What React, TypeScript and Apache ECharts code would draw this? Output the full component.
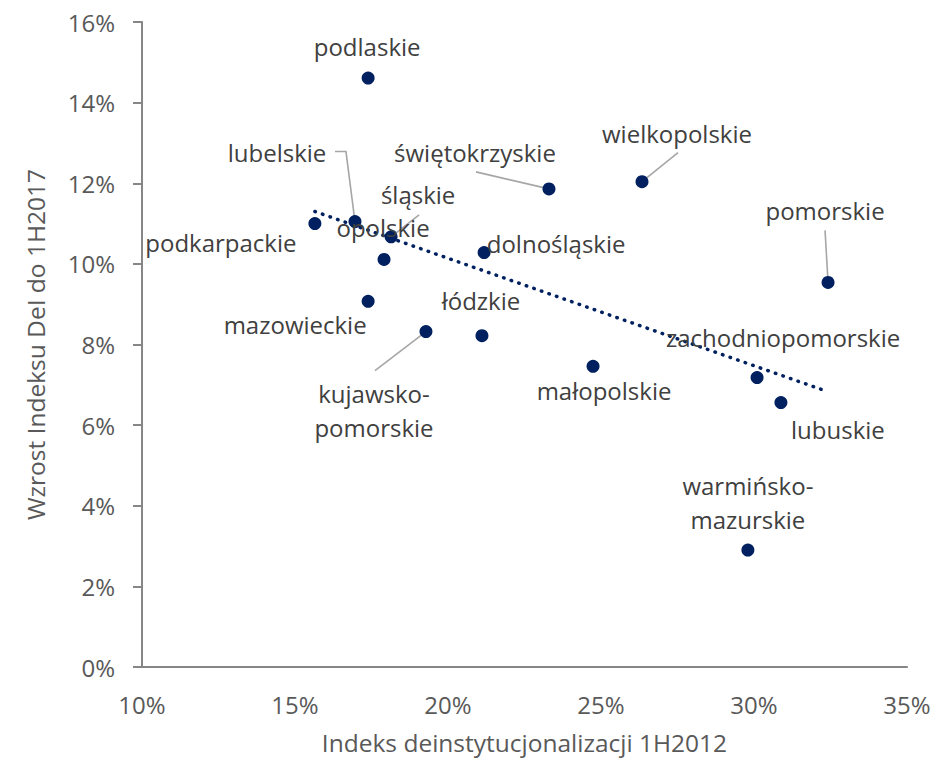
import React, { useEffect, useRef } from "react";
import * as echarts from "echarts";

// ---- Data (values in %) ----
const regions = [
  "podlaskie",
  "lubelskie",
  "podkarpackie",
  "śląskie",
  "opolskie",
  "mazowieckie",
  "kujawsko-pomorskie",
  "łódzkie",
  "dolnośląskie",
  "świętokrzyskie",
  "wielkopolskie",
  "pomorskie",
  "małopolskie",
  "zachodniopomorskie",
  "lubuskie",
  "warmińsko-mazurskie",
];
const deinstIndex1H2012 = [
  17.39, 16.96, 15.65, 18.14, 17.91, 17.39, 19.28, 21.11, 21.18, 23.3, 26.34,
  32.42, 24.74, 30.1, 30.88, 29.8,
];
const deiGrowthTo1H2017 = [
  14.61, 11.05, 11.0, 10.67, 10.11, 9.07, 8.32, 8.22, 10.28, 11.86, 12.04,
  9.54, 7.46, 7.18, 6.56, 2.9,
];

const X_AXIS_TITLE = "Indeks deinstytucjonalizacji 1H2012";
const Y_AXIS_TITLE = "Wzrost Indeksu DeI do 1H2017";
const X_MIN = 10;
const X_MAX = 35;
const X_STEP = 5;
const Y_MIN = 0;
const Y_MAX = 16;
const Y_STEP = 2;

// ---- Label placement (style only): label centre offset from point, px ----
const labelOffset: Record<string, [number, number]> = {
  podlaskie: [-1, -32],
  lubelskie: [-78, -69],
  podkarpackie: [-94, 19],
  "śląskie": [27, -42],
  opolskie: [-1, -32],
  mazowieckie: [-73, 23],
  "kujawsko-pomorskie": [-52, 79],
  "łódzkie": [-1, -35],
  "dolnośląskie": [72, -9],
  "świętokrzyskie": [-74, -36],
  wielkopolskie: [35, -48],
  pomorskie: [-3, -72],
  "małopolskie": [11, 24],
  zachodniopomorskie: [26, -40],
  lubuskie: [57, 27],
  "warmińsko-mazurskie": [0, -48],
};
// leader lines: polyline points as offsets from the point centre, px
const leaderLines: Record<string, [number, number][]> = {
  lubelskie: [
    [-20, -70],
    [-9, -70],
    [0, 0],
  ],
  "śląskie": [
    [28, -22],
    [0, 0],
  ],
  "kujawsko-pomorskie": [
    [-51, 39],
    [0, 0],
  ],
  "świętokrzyskie": [
    [-73, -17],
    [0, 0],
  ],
  wielkopolskie: [
    [36, -29],
    [0, 0],
  ],
  pomorskie: [
    [-3, -52],
    [0, 0],
  ],
};

const FONT = "'Open Sans', 'Noto Sans', sans-serif";
const NAVY = "#002060";

function linearFit(xs: number[], ys: number[]) {
  const n = xs.length;
  const mx = xs.reduce((a, b) => a + b, 0) / n;
  const my = ys.reduce((a, b) => a + b, 0) / n;
  let sxy = 0;
  let sxx = 0;
  for (let i = 0; i < n; i++) {
    sxy += (xs[i] - mx) * (ys[i] - my);
    sxx += (xs[i] - mx) * (xs[i] - mx);
  }
  const slope = sxy / sxx;
  return { slope, intercept: my - slope * mx };
}

export default function App() {
  const ref = useRef<HTMLDivElement>(null);

  useEffect(() => {
    if (!ref.current) return;
    const chart = echarts.init(ref.current, undefined, { renderer: "svg" });

    const points = regions.map((name, i) => ({
      name,
      value: [deinstIndex1H2012[i], deiGrowthTo1H2017[i]],
      label: { offset: labelOffset[name] || [0, -30] },
    }));

    const fit = linearFit(deinstIndex1H2012, deiGrowthTo1H2017);
    const xLo = Math.min(...deinstIndex1H2012);
    const xHi = Math.max(...deinstIndex1H2012);
    const trend = [
      [xLo, fit.intercept + fit.slope * xLo],
      [xHi, fit.intercept + fit.slope * xHi],
    ];

    const leaderData = regions
      .map((name, i) => ({ name, value: [deinstIndex1H2012[i], deiGrowthTo1H2017[i]] }))
      .filter((d) => leaderLines[d.name]);

    chart.setOption({
      animation: false,
      backgroundColor: "#ffffff",
      grid: { left: 142, right: 36, top: 22, bottom: 92, containLabel: false },
      xAxis: {
        type: "value",
        min: X_MIN,
        max: X_MAX,
        interval: X_STEP,
        name: X_AXIS_TITLE,
        nameLocation: "middle",
        nameGap: 63,
        nameTextStyle: { color: "#595959", fontSize: 24.5, fontFamily: FONT },
        axisLine: { show: true, lineStyle: { color: "#868686", width: 2 } },
        axisTick: { show: false },
        splitLine: { show: false },
        axisLabel: {
          formatter: "{value}%",
          color: "#595959",
          fontSize: 24,
          fontFamily: FONT,
          margin: 25,
        },
      },
      yAxis: {
        type: "value",
        min: Y_MIN,
        max: Y_MAX,
        interval: Y_STEP,
        name: Y_AXIS_TITLE,
        nameLocation: "middle",
        nameGap: 94,
        nameTextStyle: { color: "#595959", fontSize: 24.5, fontFamily: FONT },
        axisLine: { show: true, onZero: false, lineStyle: { color: "#868686", width: 2 } },
        axisTick: { show: true, inside: false, length: 9, lineStyle: { color: "#868686", width: 2 } },
        splitLine: { show: false },
        axisLabel: {
          formatter: "{value}%",
          color: "#595959",
          fontSize: 24,
          fontFamily: FONT,
          margin: 27,
        },
      },
      series: [
        {
          type: "custom",
          name: "leaders",
          z: 1,
          silent: true,
          data: leaderData,
          renderItem: (params: any, api: any) => {
            const d = leaderData[params.dataIndex];
            const c = api.coord([api.value(0), api.value(1)]);
            const offs = leaderLines[d.name];
            return {
              type: "polyline",
              shape: { points: offs.map((o) => [c[0] + o[0], c[1] + o[1]]) },
              style: { stroke: "#a6a6a6", lineWidth: 1.6, fill: null },
            };
          },
        },
        {
          type: "line",
          name: "trend",
          z: 2,
          data: trend,
          symbol: "none",
          silent: true,
          lineStyle: { color: NAVY, width: 3.5, type: [0.5, 7.5], cap: "round" },
        },
        {
          type: "scatter",
          name: "regions",
          z: 3,
          symbol: "circle",
          symbolSize: 13,
          itemStyle: { color: NAVY, opacity: 1 },
          data: points,
          label: {
            show: true,
            position: "inside",
            formatter: (p: any) => String(p.name).replace("-", "-\n"),
            color: "#404040",
            fontSize: 24,
            fontFamily: FONT,
            lineHeight: 34,
            align: "center",
            verticalAlign: "middle",
          },
          emphasis: { disabled: true },
        },
      ],
    });

    return () => chart.dispose();
  }, []);

  return (
    <div
      ref={ref}
      style={{ position: "fixed", left: 0, top: 0, width: 943, height: 760, background: "#fff" }}
    />
  );
}
